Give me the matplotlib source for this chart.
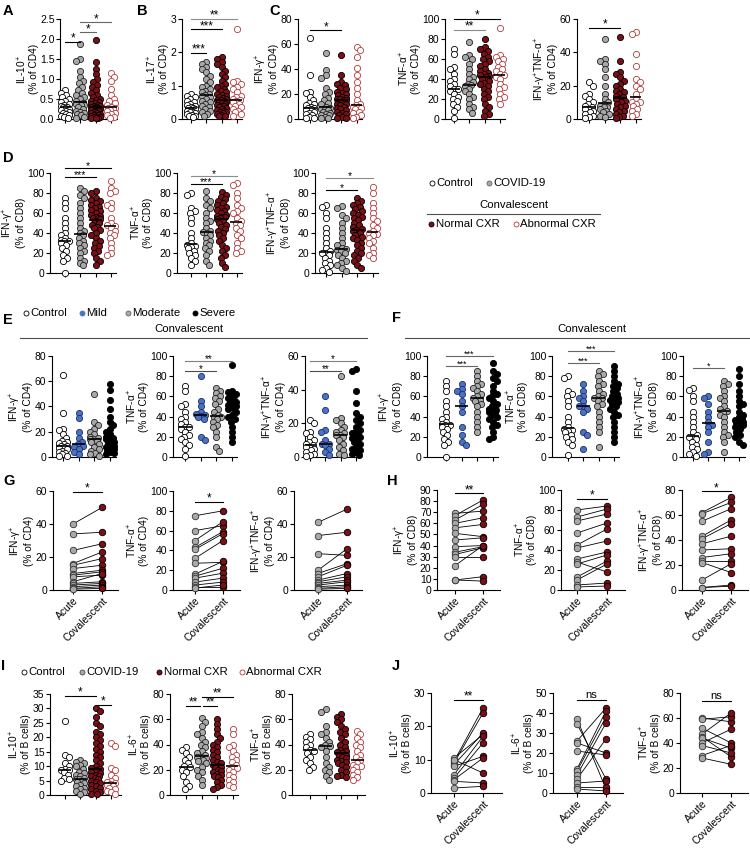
import numpy as np
import matplotlib
matplotlib.use('Agg')
import matplotlib.pyplot as plt
from matplotlib.ticker import FormatStrFormatter

plt.rcParams['font.family'] = ['Liberation Sans', 'DejaVu Sans']
plt.rcParams['mathtext.fontset'] = 'custom'
plt.rcParams['mathtext.rm'] = 'Liberation Sans'
plt.rcParams['mathtext.it'] = 'Liberation Sans:italic'
plt.rcParams['mathtext.bf'] = 'Liberation Sans:bold'

# ---------------- DATA ----------------
# Panel A: IL-10+ (% of CD4)
A_ctrl = [0.72, 0.65, 0.6, 0.55, 0.5, 0.45, 0.42, 0.38, 0.35, 0.32, 0.3, 0.3, 0.28, 0.25, 0.22, 0.2, 0.18, 0.15, 0.12, 0.1, 0.08, 0.05, 0.02]
A_cov = [1.88, 1.5, 1.45, 1.2, 1.05, 0.95, 0.9, 0.8, 0.72, 0.65, 0.6, 0.55, 0.5, 0.45, 0.4, 0.38, 0.37, 0.36, 0.35, 0.3, 0.25, 0.2, 0.18, 0.15, 0.12, 0.1, 0.05, 0.02]
A_norm = [1.97, 1.42, 1.25, 1.12, 1.0, 0.92, 0.85, 0.8, 0.72, 0.65, 0.6, 0.55, 0.5, 0.48, 0.45, 0.42, 0.4, 0.38, 0.35, 0.33, 0.32, 0.3, 0.3, 0.28, 0.27, 0.25, 0.22, 0.2, 0.2, 0.18, 0.15, 0.15, 0.12, 0.1, 0.1, 0.08, 0.06, 0.05, 0.04, 0.03, 0.02, 0.02]
A_abn = [1.15, 1.05, 0.95, 0.75, 0.6, 0.5, 0.45, 0.4, 0.35, 0.3, 0.28, 0.27, 0.25, 0.22, 0.2, 0.15, 0.12, 0.1, 0.05, 0.02]
# Panel B: IL-17+
B_ctrl = [0.75, 0.7, 0.65, 0.6, 0.55, 0.5, 0.45, 0.42, 0.38, 0.35, 0.33, 0.32, 0.3, 0.28, 0.25, 0.22, 0.2, 0.18, 0.15, 0.12, 0.1, 0.08, 0.05]
B_cov = [1.7, 1.65, 1.55, 1.5, 1.4, 1.3, 1.2, 1.1, 1.0, 0.95, 0.9, 0.85, 0.8, 0.75, 0.72, 0.7, 0.65, 0.6, 0.55, 0.5, 0.45, 0.4, 0.35, 0.3, 0.25, 0.2, 0.15, 0.1]
B_norm = [1.85, 1.8, 1.7, 1.65, 1.55, 1.45, 1.35, 1.25, 1.15, 1.05, 1.0, 0.95, 0.9, 0.85, 0.8, 0.75, 0.72, 0.7, 0.65, 0.62, 0.6, 0.58, 0.57, 0.55, 0.52, 0.5, 0.48, 0.45, 0.42, 0.4, 0.38, 0.35, 0.32, 0.3, 0.28, 0.25, 0.22, 0.2, 0.18, 0.15, 0.12, 0.1, 0.08]
B_abn = [2.7, 1.15, 1.1, 1.05, 0.95, 0.9, 0.8, 0.7, 0.65, 0.6, 0.57, 0.55, 0.5, 0.45, 0.4, 0.35, 0.3, 0.25, 0.2, 0.15, 0.1]
# Panel C (CD4)
C1_ctrl = [65, 35, 22, 21, 18, 15, 13, 12, 11, 10, 9, 9, 8, 7, 6, 5, 4, 3, 2, 1, 0.5]
C1_cov = [53, 39, 35, 33, 25, 22, 20, 17, 15, 13, 12, 10, 9, 8, 8, 7, 6, 5, 4, 3, 3, 2, 1, 0.5]
C1_norm = [51, 35, 30, 28, 27, 25, 24, 22, 21, 20, 19, 18, 17, 16, 16, 15, 15, 14, 13, 12, 12, 11, 10, 9, 8, 7, 6, 5, 4, 3, 2, 1, 0.5]
C1_abn = [58, 55, 50, 41, 35, 30, 25, 20, 15, 12, 11, 10, 10, 9, 8, 6, 5, 3, 2, 1]
C2_ctrl = [70, 65, 52, 50, 45, 40, 38, 35, 33, 30, 30, 28, 25, 22, 20, 18, 15, 12, 8, 1]
C2_cov = [77, 64, 62, 60, 55, 50, 45, 42, 40, 37, 35, 34, 33, 30, 28, 25, 22, 20, 15, 12, 10, 6]
C2_norm = [80, 72, 70, 68, 65, 62, 60, 58, 55, 53, 50, 48, 46, 45, 44, 43, 42, 40, 38, 36, 35, 33, 30, 28, 25, 22, 20, 15, 12, 8, 5, 3]
C2_abn = [91, 64, 62, 60, 58, 55, 52, 50, 48, 45, 44, 42, 40, 35, 32, 30, 25, 22, 20, 15]
C3_ctrl = [22, 20, 15, 14, 12, 10, 9, 8, 7, 6, 6, 5, 4, 3, 2, 1, 0.5]
C3_cov = [48, 36, 35, 33, 30, 25, 20, 15, 12, 10, 9, 8, 7, 7, 6, 5, 4, 3, 2, 1]
C3_norm = [49, 35, 28, 27, 25, 23, 21, 20, 18, 17, 16, 15, 14, 13, 12, 12, 11, 10, 9, 8, 7, 6, 5, 4, 3, 2, 1, 0.5]
C3_abn = [52, 51, 39, 32, 24, 22, 20, 18, 15, 12, 10, 10, 9, 8, 6, 5, 3, 2]
# Panel D (CD8)
D1_ctrl = [75, 70, 65, 55, 50, 45, 40, 38, 35, 33, 32, 32, 30, 28, 25, 22, 18, 15, 12, 0]
D1_cov = [85, 82, 78, 75, 70, 65, 60, 55, 50, 45, 42, 40, 38, 35, 32, 30, 28, 25, 22, 20, 15, 12, 10, 8]
D1_norm = [82, 80, 75, 73, 72, 70, 68, 66, 65, 63, 62, 60, 58, 57, 56, 55, 55, 54, 52, 50, 48, 46, 45, 43, 40, 38, 35, 32, 30, 27, 25, 22, 20, 15, 12, 8]
D1_abn = [92, 85, 82, 80, 70, 68, 65, 55, 50, 48, 47, 45, 42, 40, 38, 35, 30, 25, 20, 18]
D2_ctrl = [80, 78, 65, 62, 60, 55, 50, 40, 35, 30, 28, 27, 26, 25, 22, 20, 18, 15, 12, 8]
D2_cov = [82, 75, 72, 68, 65, 60, 55, 52, 50, 45, 42, 41, 40, 38, 35, 32, 30, 28, 25, 22, 18, 12, 8]
D2_norm = [81, 78, 76, 74, 72, 70, 68, 66, 65, 63, 62, 60, 58, 57, 56, 56, 55, 54, 52, 50, 48, 46, 44, 42, 40, 38, 35, 32, 28, 25, 22, 18, 15, 10, 6]
D2_abn = [90, 88, 80, 75, 68, 65, 62, 60, 55, 52, 50, 48, 45, 42, 38, 35, 30, 25, 22, 20]
D3_ctrl = [68, 66, 60, 55, 45, 40, 35, 30, 25, 22, 20, 20, 18, 15, 12, 10, 8, 5, 3, 1]
D3_cov = [67, 65, 58, 55, 50, 45, 40, 35, 30, 28, 25, 24, 23, 22, 20, 18, 15, 12, 10, 8, 5, 2]
D3_norm = [75, 72, 70, 68, 66, 64, 62, 60, 58, 56, 55, 53, 50, 48, 46, 44, 43, 42, 40, 38, 36, 35, 33, 30, 28, 25, 22, 20, 18, 15, 12, 8, 5]
D3_abn = [86, 80, 70, 65, 60, 55, 52, 48, 45, 42, 40, 39, 38, 35, 32, 30, 25, 20, 18, 15]
# Panel E (CD4 by severity)
E1_ctrl = [65, 35, 22, 21, 18, 15, 13, 12, 11, 10, 9, 9, 8, 7, 6, 5, 4, 3, 2, 1, 0.5]
E1_mild = [35, 31, 20, 15, 12, 10, 9, 8, 6, 4, 2]
E1_mod = [50, 28, 25, 22, 20, 18, 16, 15, 14, 14, 13, 12, 10, 8, 6, 5, 3, 2, 1]
E1_sev = [58, 53, 45, 38, 32, 28, 25, 22, 20, 18, 16, 15, 15, 14, 13, 12, 11, 10, 9, 8, 7, 6, 5, 4, 3, 2]
E2_ctrl = [70, 65, 52, 50, 45, 40, 38, 35, 33, 30, 30, 28, 25, 22, 20, 18, 15, 12, 8, 1]
E2_mild = [80, 55, 50, 45, 43, 42, 41, 40, 38, 20, 17]
E2_mod = [68, 65, 63, 60, 58, 55, 52, 48, 45, 42, 40, 40, 38, 35, 32, 30, 25, 20, 10, 6]
E2_sev = [91, 65, 64, 62, 60, 58, 56, 55, 54, 52, 51, 50, 50, 49, 48, 45, 42, 40, 38, 35, 30, 25, 20, 15]
E3_ctrl = [22, 20, 15, 14, 12, 10, 9, 8, 7, 6, 6, 5, 4, 3, 2, 1, 0.5]
E3_mild = [36, 28, 16, 15, 10, 8, 8, 7, 5, 3, 1]
E3_mod = [48, 23, 22, 20, 18, 16, 15, 14, 13, 13, 12, 10, 8, 6, 4, 2, 1]
E3_sev = [52, 51, 39, 32, 26, 24, 22, 20, 18, 16, 15, 14, 14, 13, 12, 11, 10, 9, 8, 6, 5, 4, 3, 2, 1]
# Panel F (CD8 by severity)
F1_ctrl = [75, 70, 65, 55, 50, 45, 40, 38, 35, 33, 32, 32, 30, 28, 25, 22, 18, 15, 12, 0]
F1_mild = [72, 67, 65, 62, 55, 50, 45, 30, 22, 15, 12]
F1_mod = [85, 80, 75, 72, 70, 68, 65, 62, 60, 58, 56, 55, 52, 50, 45, 40, 35, 30, 25]
F1_sev = [93, 85, 82, 78, 75, 70, 65, 62, 60, 58, 55, 52, 50, 48, 47, 46, 45, 44, 42, 40, 38, 35, 32, 30, 25, 20, 18]
F2_ctrl = [80, 78, 65, 62, 60, 55, 50, 40, 35, 30, 28, 27, 26, 25, 22, 20, 18, 15, 12, 2]
F2_mild = [72, 65, 60, 58, 55, 50, 50, 48, 45, 25, 22, 8]
F2_mod = [85, 82, 80, 75, 72, 70, 65, 62, 60, 58, 58, 55, 52, 50, 45, 40, 35, 30, 25, 10]
F2_sev = [90, 85, 80, 75, 72, 70, 68, 65, 62, 60, 58, 56, 55, 54, 52, 50, 48, 45, 42, 40, 35, 30, 25, 20, 15]
F3_ctrl = [68, 66, 60, 55, 45, 40, 35, 30, 25, 22, 20, 20, 18, 15, 12, 10, 8, 5, 3, 1]
F3_mild = [60, 58, 52, 45, 40, 35, 32, 30, 25, 15, 5, 3]
F3_mod = [75, 72, 70, 65, 60, 58, 55, 50, 48, 46, 45, 42, 40, 35, 30, 25, 22, 20, 15, 5]
F3_sev = [87, 80, 72, 65, 60, 55, 52, 50, 45, 42, 40, 38, 37, 36, 35, 34, 33, 32, 30, 28, 25, 22, 20, 15, 12]
# Panel G (paired, CD4)
G1_acute = [40, 34, 24, 16, 15, 13, 10, 9, 8, 5, 4, 3, 2, 1, 0.5]
G1_conv = [50, 35, 28, 23, 19, 15, 12, 11, 9, 10, 5, 4, 3, 2, 1]
G2_acute = [75, 60, 50, 43, 41, 32, 27, 16, 14, 12, 8, 5, 3, 2]
G2_conv = [80, 65, 69, 59, 57, 50, 28, 29, 22, 17, 12, 8, 3, 5]
G3_acute = [41, 33, 22, 12, 10, 8, 6, 5, 4, 3, 2, 1, 0.5]
G3_conv = [49, 35, 21, 25, 16, 15, 10, 8, 6, 5, 3, 2, 1]
# Panel H (paired, CD8)
H1_acute = [69, 67, 63, 60, 56, 51, 45, 39, 34, 32, 30, 22, 9, 9]
H1_conv = [71, 81, 77, 65, 59, 48, 47, 40, 39, 38, 30, 40, 12, 8]
H2_acute = [80, 73, 69, 57, 45, 42, 31, 28, 26, 13, 10, 5, 3]
H2_conv = [84, 81, 76, 67, 61, 49, 38, 18, 35, 29, 26, 7, 4]
H3_acute = [62, 61, 55, 43, 41, 37, 32, 26, 23, 22, 8, 2, 2]
H3_conv = [74, 70, 65, 56, 53, 43, 33, 29, 23, 14, 21, 4, 3]
# Panel I (B cells)
I1_ctrl = [25.5, 14, 13, 11, 10, 9, 8.5, 8.5, 8, 7, 6, 5.5, 5]
I1_cov = [12, 11.5, 11, 10.5, 10, 9, 8, 7.5, 7, 6.5, 6, 5.5, 5.5, 5, 4.5, 4, 3.5, 3, 2.5, 2, 1.5, 1, 0.5]
I1_norm = [30, 29, 27, 25, 24, 22, 21, 20, 19, 18, 17, 16, 15, 14, 13, 12, 11, 10, 9.5, 9, 8.5, 8, 7.5, 7, 6.5, 6.5, 6, 5.5, 5, 4.5, 4, 3.5, 3, 2.5, 2, 1.5, 1, 0.5, 0.3]
I1_abn = [18, 17, 9.5, 8.5, 7, 6, 5, 4.5, 4, 3.8, 3.5, 3, 2.5, 2, 1.5, 1, 0.5]
I2_ctrl = [38, 36, 33, 30, 28, 25, 23, 22, 20, 18, 15, 10, 7, 5]
I2_cov = [61, 58, 55, 50, 48, 45, 42, 40, 38, 35, 33, 32, 30, 30, 29, 28, 27, 25, 22, 20, 18, 15, 12, 8]
I2_norm = [60, 56, 52, 48, 45, 42, 40, 38, 36, 34, 32, 30, 28, 26, 25, 24, 23, 22, 21, 20, 19, 18, 17, 16, 15, 14, 12, 10, 8, 6, 5]
I2_abn = [52, 48, 40, 38, 35, 32, 30, 28, 26, 24, 22, 21, 20, 18, 16, 14, 12, 10, 8, 6]
I3_ctrl = [48, 46, 44, 42, 40, 38, 36, 35, 33, 30, 28, 25, 22, 20]
I3_cov = [68, 66, 55, 50, 48, 45, 42, 40, 39, 38, 35, 30, 25, 22, 20, 18, 15, 12]
I3_norm = [64, 62, 60, 58, 55, 52, 50, 48, 45, 42, 40, 38, 36, 35, 34, 33, 32, 31, 30, 29, 28, 27, 26, 25, 24, 22, 20, 18, 16, 15, 14]
I3_abn = [51, 48, 45, 42, 40, 38, 35, 32, 30, 28, 25, 24, 23, 22, 20, 18, 16, 14, 12]
# Panel J (paired, B cells)
J1_acute = [10.5, 9.5, 9, 8.5, 8, 5.5, 4.5, 4, 3.5, 1.5, 10]
J1_conv = [17.5, 25.5, 24, 18, 11, 17, 15, 10.5, 3, 2, 6]
J2_acute = [37, 34.5, 26, 25, 21, 12, 11, 9, 7, 5, 3, 2]
J2_conv = [2, 7, 42.5, 20, 19, 41, 38, 35, 27, 6, 3, 1]
J3_acute = [60, 59, 52, 47, 45, 44, 40, 38, 30, 28]
J3_conv = [57, 61, 40, 64, 29, 36, 51, 32, 38, 23]

pair_labels = ['Acute', 'Covalescent']

# ---------------- STYLE ----------------
WHITE = 'white'
GREY = '#a8a8a8'
DRED = '#7a0f16'
LRED = '#b33a3c'
BLUE = '#4a72c2'
BLACK = '#000000'
ST_CXR = [(WHITE, 'k'), (GREY, '#222222'), (DRED, 'k'), (WHITE, LRED)]
ST_SEV = [(WHITE, 'k'), (BLUE, '#1c2f66'), (GREY, '#222222'), (BLACK, 'k')]

W, H = 750, 848
fig = plt.figure(figsize=(7.5, 8.48), dpi=100)

TICK_FS = 7.5
LAB_FS = 7.3


def add_ax(left, top, right, bottom):
    return fig.add_axes([left / W, 1 - bottom / H, (right - left) / W, (bottom - top) / H])


def style_ax(ax):
    for s in ('top', 'right'):
        ax.spines[s].set_visible(False)
    for s in ('left', 'bottom'):
        ax.spines[s].set_linewidth(0.8)
    ax.tick_params(direction='out', length=3, width=0.8, labelsize=TICK_FS, pad=1.0)


def swarm(vals, ppu, d, maxw):
    ypx = np.asarray(vals, float) * ppu
    order = np.argsort(-ypx, kind='stable')
    px_l, py_l = [], []
    xs = np.zeros(len(ypx))
    for i in order:
        y = ypx[i]
        cands = [0.0]
        for px, py in zip(px_l, py_l):
            dy = abs(py - y)
            if dy < d:
                dx = np.sqrt(d * d - dy * dy)
                cands += [px + dx, px - dx]
        cands = sorted(cands, key=abs)
        chosen = None
        for c in cands:
            if abs(c) > maxw + 1e-9:
                continue
            if all((c - px) ** 2 + (y - py) ** 2 >= d * d - 1e-6 for px, py in zip(px_l, py_l)):
                chosen = c
                break
        if chosen is None:
            grid = np.linspace(-maxw, maxw, 9)
            chosen = max(grid, key=lambda c: min((c - px) ** 2 + (y - py) ** 2 for px, py in zip(px_l, py_l)))
        px_l.append(chosen)
        py_l.append(y)
        xs[i] = chosen
    return xs


def add_sigs(ax, sigs, fs):
    for g1, g2, txt, yv, col in sigs:
        ax.plot([g1, g2], [yv, yv], color=col, lw=0.8, clip_on=False, zorder=6)
        ax.annotate(txt, xy=((g1 + g2) / 2, yv), xytext=(0, -2.0 if txt != 'ns' else 0.3),
                    textcoords='offset points', ha='center', va='bottom', fontsize=fs,
                    annotation_clip=False)


def scatter_panel(box, tick0, sp, groups, styles, ymax, yticks, ylabel, sigs=(), fmt=None, sigfs=8.5):
    left, top, right, bottom = box
    ax = add_ax(left, top, right, bottom)
    style_ax(ax)
    ax.set_xlim((left - tick0) / sp, (right - tick0) / sp)
    ax.set_ylim(0, ymax)
    ppu = (bottom - top) / ymax
    for gi, (vals, (fc, ec)) in enumerate(zip(groups, styles)):
        offs = swarm(vals, ppu, 5.0, 0.27 * sp)
        ax.scatter(gi + offs / sp, vals, s=20, facecolor=fc, edgecolor=ec, linewidth=0.6,
                   clip_on=False, zorder=3)
        med = np.median(vals)
        ax.plot([gi - 0.42, gi + 0.42], [med, med], color='k', lw=1.2, zorder=5, solid_capstyle='butt')
    ax.set_xticks(range(len(groups)))
    ax.set_xticklabels([])
    ax.set_yticks(yticks)
    if fmt:
        ax.yaxis.set_major_formatter(FormatStrFormatter(fmt))
    ax.set_ylabel(ylabel, fontsize=LAB_FS, labelpad=1.0, linespacing=1.0)
    add_sigs(ax, sigs, sigfs)
    return ax


def paired_panel(box, tick0, sp, acute, conv, ymax, yticks, ylabel, sigs=(), sigfs=8.5):
    left, top, right, bottom = box
    ax = add_ax(left, top, right, bottom)
    style_ax(ax)
    ax.set_xlim((left - tick0) / sp, (right - tick0) / sp)
    ax.set_ylim(0, ymax)
    for a, c in zip(acute, conv):
        ax.plot([0, 1], [a, c], color='k', lw=0.6, zorder=2, clip_on=False)
    ax.scatter(np.zeros(len(acute)), acute, s=22, facecolor=GREY, edgecolor='#333333', linewidth=0.6,
               zorder=3, clip_on=False)
    ax.scatter(np.ones(len(conv)), conv, s=22, facecolor=DRED, edgecolor='k', linewidth=0.6,
               zorder=3, clip_on=False)
    ax.set_xticks([0, 1])
    ax.set_xticklabels(pair_labels, rotation=45, ha='right', rotation_mode='anchor', fontsize=TICK_FS)
    ax.set_yticks(yticks)
    ax.set_ylabel(ylabel, fontsize=LAB_FS, labelpad=1.0, linespacing=1.0)
    add_sigs(ax, sigs, sigfs)
    return ax


def lab(name, cell):
    return name + '\n(% of ' + cell + ')'

IL10 = 'IL-10$^{+}$'
IL17 = 'IL-17$^{+}$'
IL6 = 'IL-6$^{+}$'
IFN = 'IFN-γ$^{+}$'
TNF = 'TNF-α$^{+}$'
DP = 'IFN-γ$^{+}$TNF-α$^{+}$'

# ---- Row A-C ----
scatter_panel((60, 19, 117, 119), 65, 15.3, [A_ctrl, A_cov, A_norm, A_abn], ST_CXR, 2.5,
              [0, 0.5, 1.0, 1.5, 2.0, 2.5], lab(IL10, 'CD4'),
              [(0, 1, '*', 1.93, 'k'), (1, 2, '*', 2.17, '0.4'), (1, 3, '*', 2.42, '0.4')], fmt='%.1f')
scatter_panel((182, 19, 242, 119), 191, 15.3, [B_ctrl, B_cov, B_norm, B_abn], ST_CXR, 3,
              [0, 1, 2, 3], lab(IL17, 'CD4'),
              [(0, 1, '***', 1.98, 'k'), (0, 2, '***', 2.69, 'k'), (0, 3, '**', 3.0, '0.55')])
scatter_panel((298, 19, 362, 119), 310, 15.7, [C1_ctrl, C1_cov, C1_norm, C1_abn], ST_CXR, 80,
              [0, 20, 40, 60, 80], lab(IFN, 'CD4'), [(0, 2, '*', 71, 'k')])
scatter_panel((445, 19, 505, 119), 454, 15.3, [C2_ctrl, C2_cov, C2_norm, C2_abn], ST_CXR, 100,
              [0, 20, 40, 60, 80, 100], lab(TNF, 'CD4'),
              [(0, 2, '**', 89, '0.55'), (0, 3, '*', 100, 'k')])
scatter_panel((577, 19, 641, 119), 589, 15.7, [C3_ctrl, C3_cov, C3_norm, C3_abn], ST_CXR, 60,
              [0, 20, 40, 60], lab(DP, 'CD4'), [(0, 2, '*', 54.6, 'k')])

# ---- Row D ----
scatter_panel((50, 173, 116, 273), 65, 15.3, [D1_ctrl, D1_cov, D1_norm, D1_abn], ST_CXR, 100,
              [0, 20, 40, 60, 80, 100], lab(IFN, 'CD8'),
              [(0, 2, '***', 96, 'k'), (0, 3, '*', 105, 'k')], sigfs=7.5)
scatter_panel((177, 173, 242, 273), 191, 15.3, [D2_ctrl, D2_cov, D2_norm, D2_abn], ST_CXR, 100,
              [0, 20, 40, 60, 80, 100], lab(TNF, 'CD8'),
              [(0, 2, '***', 89, 'k'), (0, 3, '*', 97, '0.55')], sigfs=7.5)
scatter_panel((315, 173, 378, 273), 326, 15.7, [D3_ctrl, D3_cov, D3_norm, D3_abn], ST_CXR, 100,
              [0, 20, 40, 60, 80, 100], lab(DP, 'CD8'),
              [(0, 2, '*', 83, 'k'), (0, 3, '*', 95, '0.55')], sigfs=7.5)

# ---- Row E/F ----
scatter_panel((52, 356, 116, 457), 63, 15.7, [E1_ctrl, E1_mild, E1_mod, E1_sev], ST_SEV, 80,
              [0, 20, 40, 60, 80], lab(IFN, 'CD4'))
scatter_panel((173, 356, 237, 457), 185, 15.7, [E2_ctrl, E2_mild, E2_mod, E2_sev], ST_SEV, 100,
              [0, 20, 40, 60, 80, 100], lab(TNF, 'CD4'),
              [(0, 2, '*', 85, '0.3'), (0, 3, '**', 95, '0.5')], sigfs=7)
scatter_panel((305, 356, 361, 457), 310, 15.3, [E3_ctrl, E3_mild, E3_mod, E3_sev], ST_SEV, 60,
              [0, 20, 40, 60], lab(DP, 'CD4'),
              [(0, 2, '**', 51, '0.3'), (0, 3, '*', 57, '0.5')], sigfs=7)
scatter_panel((427, 356, 498, 457), 446, 15.6, [F1_ctrl, F1_mild, F1_mod, F1_sev], ST_SEV, 100,
              [0, 20, 40, 60, 80, 100], lab(IFN, 'CD8'),
              [(0, 2, '***', 90, '0.4'), (0, 3, '***', 100, '0.4')], sigfs=6.5)
scatter_panel((552, 356, 619, 457), 568, 15.3, [F2_ctrl, F2_mild, F2_mod, F2_sev], ST_SEV, 100,
              [0, 20, 40, 60, 80, 100], lab(TNF, 'CD8'),
              [(0, 2, '***', 93, '0.4'), (0, 3, '***', 105, '0.4')], sigfs=6.5)
scatter_panel((683, 356, 745, 457), 693, 15.4, [F3_ctrl, F3_mild, F3_mod, F3_sev], ST_SEV, 100,
              [0, 20, 40, 60, 80, 100], lab(DP, 'CD8'),
              [(0, 2, '*', 88, '0.4')], sigfs=6.5)

# ---- Row G/H ----
paired_panel((53, 491, 118, 590), 73, 29, G1_acute, G1_conv, 60, [0, 20, 40, 60], lab(IFN, 'CD4'),
             [(0, 1, '*', 59.6, 'k')])
paired_panel((173, 491, 240, 590), 195, 28, G2_acute, G2_conv, 100, [0, 20, 40, 60, 80, 100],
             lab(TNF, 'CD4'), [(0, 1, '*', 89, 'k')])
paired_panel((294, 491, 362, 590), 318, 29, G3_acute, G3_conv, 60, [0, 20, 40, 60], lab(DP, 'CD4'))
paired_panel((437, 490, 500, 590), 455, 28, H1_acute, H1_conv, 90, list(range(0, 91, 10)),
             lab(IFN, 'CD8'), [(0, 1, '**', 87, 'k')])
paired_panel((561, 490, 625, 590), 577, 30, H2_acute, H2_conv, 100, [0, 20, 40, 60, 80, 100],
             lab(TNF, 'CD8'), [(0, 1, '*', 91, 'k')])
paired_panel((682, 490, 748, 590), 702, 29, H3_acute, H3_conv, 80, [0, 20, 40, 60, 80],
             lab(DP, 'CD8'), [(0, 1, '*', 79, 'k')])

# ---- Row I/J ----
scatter_panel((50, 694, 121, 795), 65, 15.3, [I1_ctrl, I1_cov, I1_norm, I1_abn], ST_CXR, 35,
              list(range(0, 36, 5)), lab(IL10, 'B cells'),
              [(0, 2, '*', 34.3, 'k'), (2, 3, '*', 31.2, 'k')])
scatter_panel((170, 694, 238, 795), 186, 15.6, [I2_ctrl, I2_cov, I2_norm, I2_abn], ST_CXR, 80,
              [0, 20, 40, 60, 80], lab(IL6, 'B cells'),
              [(0, 0.92, '**', 70.5, 'k'), (1.08, 2, '**', 70.5, 'k'), (1, 3, '**', 77.6, 'k')])
scatter_panel((292, 694, 365, 795), 310, 15.7, [I3_ctrl, I3_cov, I3_norm, I3_abn], ST_CXR, 80,
              [0, 20, 40, 60, 80], lab(TNF, 'B cells'))
paired_panel((431, 693, 502, 793), 454, 29, J1_acute, J1_conv, 30, [0, 10, 20, 30],
             lab(IL10, 'B cells'), [(0, 1, '**', 28, 'k')])
paired_panel((553, 693, 623, 793), 577, 29, J2_acute, J2_conv, 50, [0, 10, 20, 30, 40, 50],
             lab(IL6, 'B cells'), [(0, 1, 'ns', 46.5, 'k')], sigfs=8)
paired_panel((680, 693, 748, 793), 702, 29, J3_acute, J3_conv, 80, [0, 20, 40, 60, 80],
             lab(TNF, 'B cells'), [(0, 1, 'ns', 73.6, 'k')], sigfs=8)

# ---- overlay: panel letters, legends, headers ----
ov = fig.add_axes([0, 0, 1, 1], facecolor='none')
ov.set_xlim(0, W)
ov.set_ylim(H, 0)
ov.axis('off')

for letter, (x, y) in {'A': (3, 11), 'B': (137, 11), 'C': (269, 11), 'D': (3, 158),
                       'E': (3, 320), 'F': (392, 318), 'G': (3, 481), 'H': (387, 481),
                       'I': (1, 666), 'J': (392, 666)}.items():
    ov.text(x, y, letter, fontsize=10.5, fontweight='bold', ha='left', va='center')

LEG_FS = 8.2


def legend_item(x, y, fc, ec, text, ms=3.6):
    ov.plot([x], [y], marker='o', ms=ms, mfc=fc, mec=ec, mew=0.6, ls='none')
    ov.text(x + 4.5, y, text, fontsize=LEG_FS, ha='left', va='center')

# D legend
legend_item(432, 183, WHITE, 'k', 'Control')
legend_item(489, 183, GREY, '0.4', 'COVID-19')
ov.text(514, 205, 'Convalescent', fontsize=LEG_FS, ha='center', va='center')
ov.plot([427, 600], [214, 214], color='0.3', lw=0.8)
legend_item(431, 224, DRED, 'k', 'Normal CXR')
legend_item(516, 224, WHITE, LRED, 'Abnormal CXR')

# E legend + headers
legend_item(26, 313, WHITE, 'k', 'Control')
legend_item(82, 313, BLUE, BLUE, 'Mild')
legend_item(128, 313, GREY, '0.4', 'Moderate')
legend_item(195, 313, BLACK, 'k', 'Severe')
ov.text(189, 329, 'Convalescent', fontsize=LEG_FS, ha='center', va='center')
ov.plot([20, 367], [338, 338], color='0.3', lw=0.8)
ov.text(592, 329, 'Convalescent', fontsize=LEG_FS, ha='center', va='center')
ov.plot([405, 750], [338, 338], color='0.3', lw=0.8)

# I legend
legend_item(24, 672, WHITE, 'k', 'Control')
legend_item(82, 672, GREY, '0.3', 'COVID-19')
legend_item(159, 672, DRED, 'k', 'Normal CXR')
legend_item(242, 672, WHITE, LRED, 'Abnormal CXR')

fig.savefig('out.png', dpi=100)
